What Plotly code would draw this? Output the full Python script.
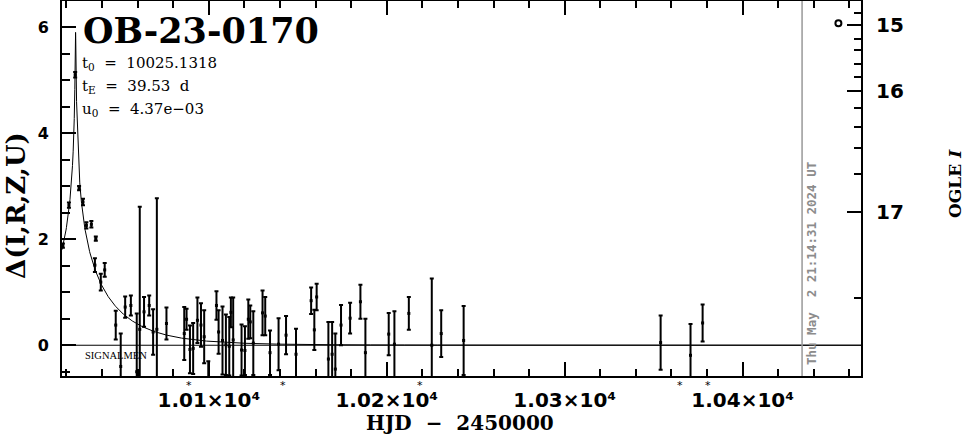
import numpy as np
import plotly.graph_objects as go

# ---- data ----
hjd = [10018.0, 10021.4, 10024.9, 10027.1, 10029.3, 10031.2, 10034.0, 10036.5, 10036.0, 10041.5,
       10039.3, 10047.7, 10050.5, 10053.0, 10056.2, 10059.5, 10061.2, 10063.6, 10066.5, 10070.8,
       10068.7, 10076.2, 10086.2, 10087.5, 10089.4, 10091.2, 10093.6, 10095.6, 10097.4, 10099.7,
       10104.3, 10105.5, 10107.7, 10109.6, 10111.5, 10112.4, 10113.7, 10118.4, 10120.3, 10122.2,
       10123.3, 10125.0, 10130.2, 10131.7, 10134.4, 10139.2, 10143.4, 10149.0, 10157.5, 10159.3,
       10160.6, 10167.2, 10169.3, 10171.1, 10174.3, 10179.4, 10185.2, 10188.0, 10201.1, 10204.3,
       10212.4, 10225.3, 10230.6, 10243.2, 10353.9, 10370.7, 10377.5]
delta = [1.88, 2.64, 5.10, 2.96, 2.70, 2.26, 2.28, 2.01, 1.51, 1.42,
         1.19, 0.38, -0.40, 0.72, 0.75, -0.50, 0.30, 0.63, 0.75, 0.30,
         0.25, 0.41, 0.22, 0.49, -0.08, -0.06, 0.47, 0.38, 0.16, -0.70,
         0.75, 0.25, 0.09, 0.01, -0.02, 0.62, 0.10, -0.09, -0.10, 0.49,
         0.44, 0.04, 0.61, 0.55, -0.14, 0.02, 0.19, -0.17, 0.84, 0.29,
         0.91, -0.26, -0.17, -0.45, 0.38, 0.51, 0.82, -0.14, 0.21, 0.02,
         0.60, 0.00, 0.22, 0.09, 0.05, -0.19, 0.42]
err = [0.04, 0.05, 0.05, 0.04, 0.06, 0.06, 0.06, 0.04, 0.13, 0.13,
       0.16, 0.27, 0.62, 0.20, 0.19, 1.10, 2.31, 0.28, 0.19, 2.47,
       0.43, 0.30, 0.50, 0.20, 0.45, 0.48, 0.43, 0.41, 0.50, 0.40,
       0.27, 0.41, 0.64, 0.57, 0.55, 0.28, 0.80, 0.48, 0.46, 0.37,
       0.31, 0.60, 0.42, 0.36, 0.42, 0.49, 0.36, 0.48, 0.25, 0.38,
       0.25, 0.70, 0.61, 0.67, 0.38, 0.29, 0.32, 0.64, 0.40, 0.62,
       0.31, 1.26, 0.44, 0.65, 0.51, 0.59, 0.35]

# model parameters shown on the chart
t0 = 10025.1318
tE = 39.53
u0 = 4.37e-03

# asterisk markers below the axis
star_hjd = [10088.6, 10141.5, 10218.4, 10364.7, 10380.6]
# open circle at upper right
circ_hjd = [10453.8]
circ_delta = [6.07]
# "now" line
now_hjd = 10433.385

# right axis: OGLE I magnitude labels and their positions on the delta scale
mag_major = ["15", "16", "17"]
mag_major_pos = [6.038, 4.787, 2.509]
mag_minor_pos = [6.264, 5.781, 5.560, 5.309, 5.057, 4.472, 4.113, 3.717, 3.221, 0.887]

xticks = [10100, 10200, 10300, 10400]
xticklabels = ["1.01×10⁴", "1.02×10⁴", "1.03×10⁴", "1.04×10⁴"]

xrange = [10017.5, 10466.5]
yrange = [-0.58, 6.49]

# ---- model curve (Paczynski) ----
tt = np.unique(np.concatenate([np.linspace(xrange[0], xrange[1], 2000),
                               t0 + np.linspace(-3, 3, 2001)]))
u = np.sqrt(u0**2 + ((tt - t0) / tE)**2)
A = (u**2 + 2) / (u * np.sqrt(u**2 + 4))
model = 2.5 * np.log10(A)

fig = go.Figure()
fig.add_trace(go.Scatter(x=tt, y=model, mode="lines",
                         line=dict(color="black", width=1), showlegend=False, hoverinfo="skip"))
fig.add_trace(go.Scatter(x=hjd, y=delta, mode="markers",
                         marker=dict(symbol="square", size=3, color="black"),
                         error_y=dict(type="data", array=err, visible=True,
                                      color="black", thickness=2, width=2),
                         showlegend=False))
fig.add_trace(go.Scatter(x=circ_hjd, y=circ_delta, mode="markers",
                         marker=dict(symbol="circle-open", size=6, color="black",
                                     line=dict(width=2, color="black")),
                         showlegend=False))
# dummy trace for right axis
fig.add_trace(go.Scatter(x=[xrange[0]], y=[0], yaxis="y2", mode="markers",
                         marker=dict(opacity=0), showlegend=False, hoverinfo="skip"))

fig.add_shape(type="line", xref="paper", x0=0, x1=1, yref="y", y0=0, y1=0,
              line=dict(color="black", width=1))
fig.add_shape(type="line", xref="x", x0=now_hjd, x1=now_hjd, yref="paper", y0=0, y1=1,
              line=dict(color="#999999", width=1.5))

serif = "DejaVu Serif"
sans = "DejaVu Sans"

def pxx(px):
    return (px - 62) / 799.0

def pxy(py):
    return (376 - py) / 375.0

anns = [
    dict(text="OB-23-0170", x=pxx(81), y=pxy(31), xanchor="left", yanchor="middle",
         font=dict(family=serif, size=35, color="black", weight=700)),
    dict(text="t<sub>0</sub>  =  %.4f" % t0, x=pxx(80), y=pxy(63), xanchor="left", yanchor="middle",
         font=dict(family=serif, size=15, color="black")),
    dict(text="t<sub>E</sub>  =  %.2f  d" % tE, x=pxx(80), y=pxy(86), xanchor="left", yanchor="middle",
         font=dict(family=serif, size=15, color="black")),
    dict(text="u<sub>0</sub>  =  4.37e−03", x=pxx(80), y=pxy(109), xanchor="left", yanchor="middle",
         font=dict(family=serif, size=15, color="black")),
    dict(text="SIGNALMEN", x=pxx(83), y=pxy(355), xanchor="left", yanchor="middle",
         font=dict(family="Liberation Serif", size=10.5, color="black")),
    dict(text="Δ(I,R,Z,U)", x=pxx(16), y=pxy(206), xanchor="center", yanchor="middle",
         textangle=-90, font=dict(family=serif, size=26, color="black", weight=700)),
    dict(text="OGLE <i>I</i>", x=pxx(955), y=pxy(184), xanchor="center", yanchor="middle",
         textangle=-90, font=dict(family=serif, size=17, color="black", weight=700)),
    dict(text="HJD  −  2450000", x=pxx(460), y=pxy(423), xanchor="center", yanchor="middle",
         font=dict(family=serif, size=20, color="black", weight=700)),
    dict(text="Thu May  2 21:14:31 2024 UT", x=pxx(811), y=pxy(264), xanchor="center",
         yanchor="middle", textangle=-90,
         font=dict(family="DejaVu Sans Mono", size=12.5, color="#8c8c8c", weight=700)),
]
for a in anns:
    a.update(xref="paper", yref="paper", showarrow=False)
# asterisks just below the time axis, positioned through the x axis scale
for t in star_hjd:
    anns.append(dict(text="*", x=t, xref="x", y=pxy(385.5), yref="paper", showarrow=False,
                     xanchor="center", yanchor="middle",
                     font=dict(family=sans, size=11, color="black")))

fig.update_layout(
    width=965, height=434,
    margin=dict(l=62, r=104, t=1, b=58, autoexpand=False),
    plot_bgcolor="white", paper_bgcolor="white",
    annotations=anns,
    xaxis=dict(range=xrange, showgrid=False, zeroline=False, automargin=False,
               showline=True, linecolor="black", linewidth=2, mirror="ticks",
               ticks="inside", ticklen=14, tickwidth=2, tickcolor="black",
               tickmode="array", tickvals=xticks, ticktext=xticklabels,
               tickfont=dict(family=sans, size=20, color="black", weight=700),
               ticklabelstandoff=5,
               minor=dict(tickmode="linear", tick0=10000, dtick=20, ticks="inside",
                          ticklen=7, tickwidth=2, tickcolor="black", showgrid=False)),
    yaxis=dict(range=yrange, showgrid=False, zeroline=False, automargin=False,
               showline=True, linecolor="black", linewidth=2, mirror=False,
               ticks="inside", ticklen=14, tickwidth=2, tickcolor="black",
               tickmode="linear", tick0=0, dtick=2,
               tickfont=dict(family=sans, size=16, color="black", weight=700),
               ticklabelstandoff=8,
               minor=dict(tickmode="linear", tick0=0, dtick=0.5, ticks="inside",
                          ticklen=8, tickwidth=2, tickcolor="black", showgrid=False)),
    yaxis2=dict(range=yrange, overlaying="y", side="right", showgrid=False, zeroline=False,
                automargin=False,
                showline=True, linecolor="black", linewidth=2,
                ticks="inside", ticklen=14, tickwidth=2, tickcolor="black",
                tickmode="array", tickvals=mag_major_pos, ticktext=mag_major,
                tickfont=dict(family=sans, size=20, color="black", weight=700),
                ticklabelstandoff=9,
                minor=dict(tickmode="array", tickvals=mag_minor_pos, ticks="inside",
                           ticklen=7, tickwidth=2, tickcolor="black", showgrid=False)),
)

fig.write_html("out.html", config={"displayModeBar": False},
               post_script="document.body.style.margin='0px';")
